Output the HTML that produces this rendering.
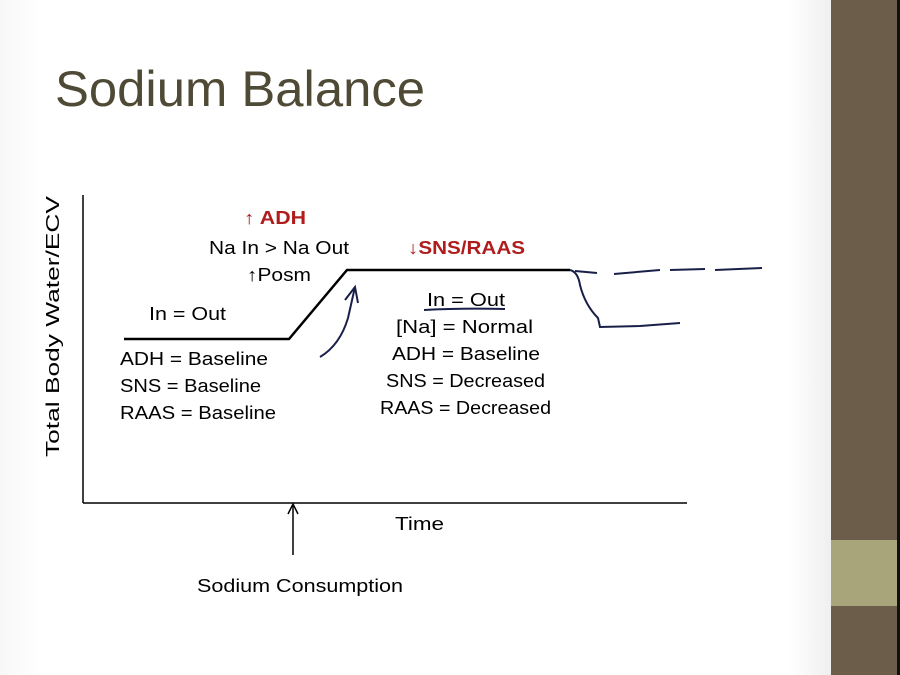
<html><body style="margin:0;width:900px;height:675px;overflow:hidden;background:#fff">
<svg width="900" height="675" xmlns="http://www.w3.org/2000/svg" style="position:absolute;left:0;top:0">
<defs><linearGradient id="g" x1="0" x2="1"><stop offset="0" stop-color="#f7f7f7"/><stop offset="0.05" stop-color="#fff"/><stop offset="0.95" stop-color="#fff"/><stop offset="1" stop-color="#efefef"/></linearGradient></defs>
<rect width="831" height="675" fill="url(#g)"/>
<rect x="831" y="0" width="66" height="675" fill="#6b5d4a"/>
<rect x="831" y="540" width="66" height="66" fill="#a9a57a"/>
<rect x="897" y="0" width="3" height="675" fill="#111"/>
<text x="55" y="106" font-family="Liberation Sans, sans-serif" font-size="50" fill="#4f4a35" textLength="370" lengthAdjust="spacingAndGlyphs">Sodium Balance</text>
<g stroke="#000" stroke-width="1.5" fill="none">
<line x1="83" y1="195" x2="83" y2="503"/><line x1="83" y1="503" x2="687" y2="503"/>
<polyline points="124,339 289,339 347,270 570,270" stroke-width="2.5"/>
<line x1="293" y1="555" x2="293" y2="505"/><polyline points="288,514 293,504 298,514"/>
</g>
<g stroke="#1a1f4a" stroke-width="2" fill="none">
<path d="M570,270 Q578,272 580,285 Q585,305 598,318 L600,327 L640,326 L680,323"/>
<path d="M575,271 L597,273 M614,274 L660,270 M670,270 L705,269 M715,270 L762,268" />
<path d="M320,357 Q340,345 348,318 Q352,300 355,287"/><path d="M345,300 L355,287 L358,303"/>
<path d="M424,310 Q460,308 505,309"/>
</g>
<g font-family="Liberation Sans, sans-serif" font-size="18" fill="#000" lengthAdjust="spacingAndGlyphs">
<text x="149" y="320" textLength="77" lengthAdjust="spacingAndGlyphs">In = Out</text>
<text x="120" y="365" textLength="148" lengthAdjust="spacingAndGlyphs">ADH = Baseline</text>
<text x="120" y="392" textLength="141" lengthAdjust="spacingAndGlyphs">SNS = Baseline</text>
<text x="120" y="419" textLength="156" lengthAdjust="spacingAndGlyphs">RAAS = Baseline</text>
<text x="244" y="224" fill="#b01c1c" font-weight="bold" textLength="62" lengthAdjust="spacingAndGlyphs">↑ ADH</text>
<text x="209" y="254" textLength="140" lengthAdjust="spacingAndGlyphs">Na In &gt; Na Out</text>
<text x="247" y="281" textLength="64" lengthAdjust="spacingAndGlyphs">↑Posm</text>
<text x="408" y="254" fill="#b01c1c" font-weight="bold" textLength="117" lengthAdjust="spacingAndGlyphs">↓SNS/RAAS</text>
<text x="427" y="306" textLength="78" lengthAdjust="spacingAndGlyphs">In = Out</text>
<text x="396" y="333" textLength="137" lengthAdjust="spacingAndGlyphs">[Na] = Normal</text>
<text x="392" y="360" textLength="148" lengthAdjust="spacingAndGlyphs">ADH = Baseline</text>
<text x="386" y="387" textLength="159" lengthAdjust="spacingAndGlyphs">SNS = Decreased</text>
<text x="380" y="414" textLength="171" lengthAdjust="spacingAndGlyphs">RAAS = Decreased</text>
<text x="395" y="530" textLength="49" lengthAdjust="spacingAndGlyphs">Time</text>
<text x="197" y="592" textLength="206" lengthAdjust="spacingAndGlyphs">Sodium Consumption</text>
<text transform="translate(59,457) rotate(-90)" textLength="261" lengthAdjust="spacingAndGlyphs">Total Body Water/ECV</text>
</g>
</svg>
</body></html>
